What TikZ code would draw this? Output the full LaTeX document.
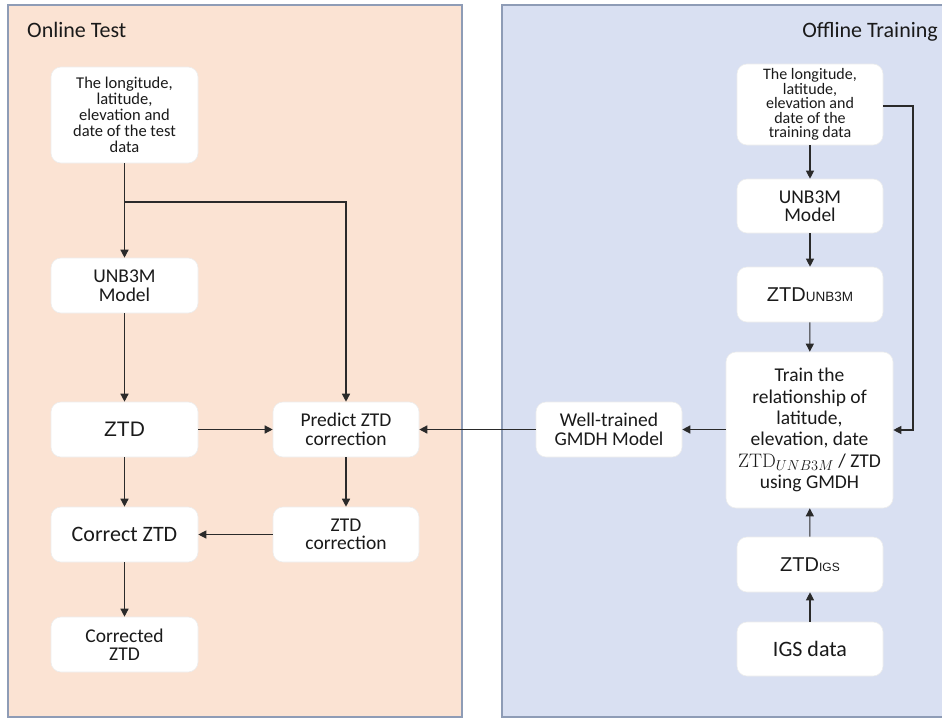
\documentclass[tikz,border=0pt]{standalone}
\usepackage{fontspec}
\setmainfont{Carlito}
\newfontfamily\arialf{Liberation Sans}
\newfontfamily\lmrf{Latin Modern Roman}
\usetikzlibrary{arrows.meta}
\definecolor{peach}{HTML}{FBE3D3}
\definecolor{bluebg}{HTML}{D9E0F2}
\definecolor{panelline}{HTML}{8E9CB6}
\definecolor{txt}{HTML}{1A1A1A}
\definecolor{linec}{HTML}{2A2A2A}
\tikzset{
  box/.style={draw=black!7, line width=0.6pt, fill=white, rounded corners=10pt,
    minimum width=147pt, minimum height=55pt, inner sep=0pt, align=center,
    text=txt, font=\fontsize{19.5}{18.5}\selectfont},
  smallbox/.style={box, font=\fontsize{16.5}{16}\selectfont},
  arr/.style={draw=linec, line width=1.4pt, -{Triangle[length=8pt,width=8pt]}},
  panel/.style={draw=panelline, line width=1.2pt},
  title/.style={text=txt, font=\fontsize{22}{24}\selectfont, inner sep=0pt}
}
\begin{document}
\begin{tikzpicture}[x=1pt,y=-1pt]
\useasboundingbox (0,0) rectangle (942,718);
% panels
\path[panel, fill=peach] (8,5) rectangle (462,717);
\path[panel, fill=bluebg] (502,5) rectangle (950,717);
\node[title, anchor=base west] (tOn) at (27,37) {Online Test};
\node[title, anchor=base east] (tOff) at (938,37) {Offline Training};

% left column
\node[smallbox, minimum height=96pt] (in1) at (124.5,115)
  {The longitude,\\latitude,\\elevation and\\date of the test\\data};
\node[box] (unb1) at (124.5,285.5) {UNB3M\\Model};
\node[box, font=\arialf\fontsize{21}{22}\selectfont] (ztd1) at (124.5,429.5) {ZTD};
\node[box, font=\fontsize{22}{24}\selectfont] (corr) at (124.5,534.5) {Correct ZTD};
\node[box] (corrd) at (124.5,644.5) {Corrected\\ZTD};
\node[box, minimum width=146pt] (pred) at (346,429.5) {Predict ZTD\\correction};
\node[box, minimum width=146pt] (ztdc) at (346,534.5) {ZTD\\correction};

% right column
\node[smallbox, minimum width=146pt, minimum height=81pt, font=\fontsize{16}{14.5}\selectfont] (in2) at (810,104.5)
  {The longitude,\\latitude,\\elevation and\\date of the\\training data};
\node[box, minimum width=146pt, minimum height=54pt] (unb2) at (810,206) {UNB3M\\Model};
\node[box, minimum width=146pt] (ztdu) at (810,294.5)
  {{\arialf\fontsize{20}{22}\selectfont ZTD\fontsize{13.5}{16}\selectfont UNB3M}};
\node[box, minimum width=167pt, minimum height=156pt, font=\fontsize{19.5}{21.3}\selectfont] (train) at (809.5,430)
  {Train the\\relationship of\\latitude,\\elevation, date\\{\lmrf ZTD}$_{UNB3M}$ / ZTD\\using GMDH};
\node[box, minimum width=146pt] (ztdigs) at (810,564.5)
  {{\arialf\fontsize{20}{22}\selectfont ZTD\fontsize{12}{14}\selectfont IGS}};
\node[box, minimum width=146pt, minimum height=54pt, font=\fontsize{22}{24}\selectfont] (igs) at (810,649) {IGS data};
\node[box, minimum width=146pt] (well) at (609,429.5) {Well-trained\\GMDH Model};

% connectors, left
\coordinate (j) at (124.5,202);
\draw[arr] (in1) -- (unb1);
\draw[arr] (j) -| (pred.north);
\draw[arr] (unb1) -- (ztd1);
\draw[arr] (ztd1) -- (pred);
\draw[arr] (ztd1) -- (corr);
\draw[arr] (pred) -- (ztdc);
\draw[arr, line width=1.1pt] (ztdc) -- (corr);
\draw[arr] (corr) -- (corrd);

% connectors, right
\draw[arr, line width=1.1pt] (in2) -- (unb2);
\draw[arr, line width=1.1pt] (unb2) -- (ztdu);
\draw[arr, line width=1.1pt] (ztdu) -- (train);
\coordinate (fb) at (913,106);
\draw[arr, line width=1.1pt] (in2.east |- fb) -- (fb) |- (train.east);
\draw[arr, line width=1.1pt] (igs) -- (ztdigs);
\draw[arr, line width=1.1pt] (ztdigs) -- (train);
\draw[arr] (train.west |- well.east) -- (well.east);
\draw[arr] (well.west) -- (pred.east);
\end{tikzpicture}
\end{document}
